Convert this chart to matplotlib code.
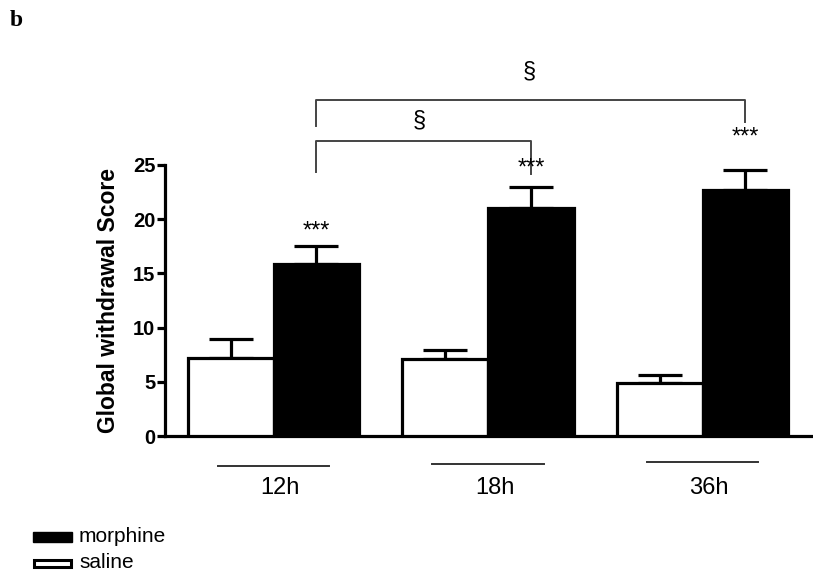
import matplotlib.pyplot as plt
import numpy as np

# Data
groups = ["12h", "18h", "36h"]
saline = [7.2, 7.1, 4.9]
saline_err = [1.75, 0.8, 0.7]
morphine = [15.9, 21.0, 22.7]
morphine_err = [1.6, 2.0, 1.8]
stars = ["***", "***", "***"]
yticks = [0, 5, 10, 15, 20, 25]

plt.rcParams['font.family'] = ['Liberation Sans', 'DejaVu Sans']

fig = plt.figure(figsize=(8.13, 5.74), dpi=100)
ax = fig.add_axes([165 / 813, 138 / 574, 647 / 813, 271 / 574])

x = np.arange(len(groups))
w = 0.40
lw = 2.3

# Bars
ax.bar(x - w / 2, saline, w, color='white', edgecolor='black', linewidth=lw, zorder=3)
ax.bar(x + w / 2, morphine, w, color='black', edgecolor='black', linewidth=lw, zorder=3)

# Upper error bars only
ax.errorbar(x - w / 2, saline, yerr=[np.zeros(3), saline_err], fmt='none',
            ecolor='black', elinewidth=lw, capsize=16, capthick=lw, zorder=2)
ax.errorbar(x + w / 2, morphine, yerr=[np.zeros(3), morphine_err], fmt='none',
            ecolor='black', elinewidth=lw, capsize=16, capthick=lw, zorder=2)

# Significance stars
star_y = [18.9, 24.7, 27.5]
for i, s in enumerate(stars):
    ax.text(x[i] + w / 2, star_y[i], s, ha='center', va='center', fontsize=17, clip_on=False)

# Brackets comparing morphine groups
bc = '#444444'
ax.plot([x[0] + w / 2, x[0] + w / 2, x[1] + w / 2, x[1] + w / 2],
        [24.4, 27.2, 27.2, 24.2], color=bc, lw=1.4, clip_on=False)
ax.plot([x[0] + w / 2, x[0] + w / 2, x[2] + w / 2, x[2] + w / 2],
        [28.6, 31.0, 31.0, 29.0], color=bc, lw=1.4, clip_on=False)
ax.text((x[0] + x[1]) / 2 + w / 2 - 0.02, 29.1, "§", ha='center', va='center', fontsize=17, clip_on=False)
ax.text((x[0] + x[2]) / 2 + w / 2 - 0.01, 33.6, "§", ha='center', va='center', fontsize=17, clip_on=False)

# Group underlines and labels
ul = [-2.75, -2.6, -2.4]
for i, g in enumerate(groups):
    ax.plot([x[i] - 0.26, x[i] + 0.26], [ul[i], ul[i]], color='#333333', lw=1.4, clip_on=False)
    ax.text(x[i] + 0.03, -4.8, g, ha='center', va='center', fontsize=17, clip_on=False)

ax.set_xlim(-0.506, 2.51)
ax.set_ylim(0, 25)
ax.set_xticks([])
ax.set_yticks(yticks)
ax.set_yticklabels([str(t) for t in yticks], fontsize=14.5, fontweight='bold')
ax.tick_params(axis='y', width=lw, length=6, pad=1)
ax.set_ylabel("Global withdrawal Score", fontsize=16.5, fontweight='bold', labelpad=9)
for side in ['top', 'right']:
    ax.spines[side].set_visible(False)
for side in ['left', 'bottom']:
    ax.spines[side].set_linewidth(lw)

# Legend drawn as patches in figure coordinates
fig.patches.append(plt.Rectangle((33 / 813, 1 - 542 / 574), 39 / 813, 10 / 574,
                                 transform=fig.transFigure, facecolor='black', edgecolor='black', lw=1))
fig.patches.append(plt.Rectangle((34 / 813, 1 - 567 / 574), 37 / 813, 7 / 574,
                                 transform=fig.transFigure, facecolor='white', edgecolor='black', lw=2.2))
fig.text(79 / 813, 1 - 537 / 574, "morphine", fontsize=15, va='center')
fig.text(79 / 813, 1 - 563 / 574, "saline", fontsize=15, va='center')

fig.text(10 / 813, 1 - 21 / 574, "b", fontsize=17, fontweight='bold', family='Liberation Serif', va='center')

fig.savefig("out.png", dpi=100)
